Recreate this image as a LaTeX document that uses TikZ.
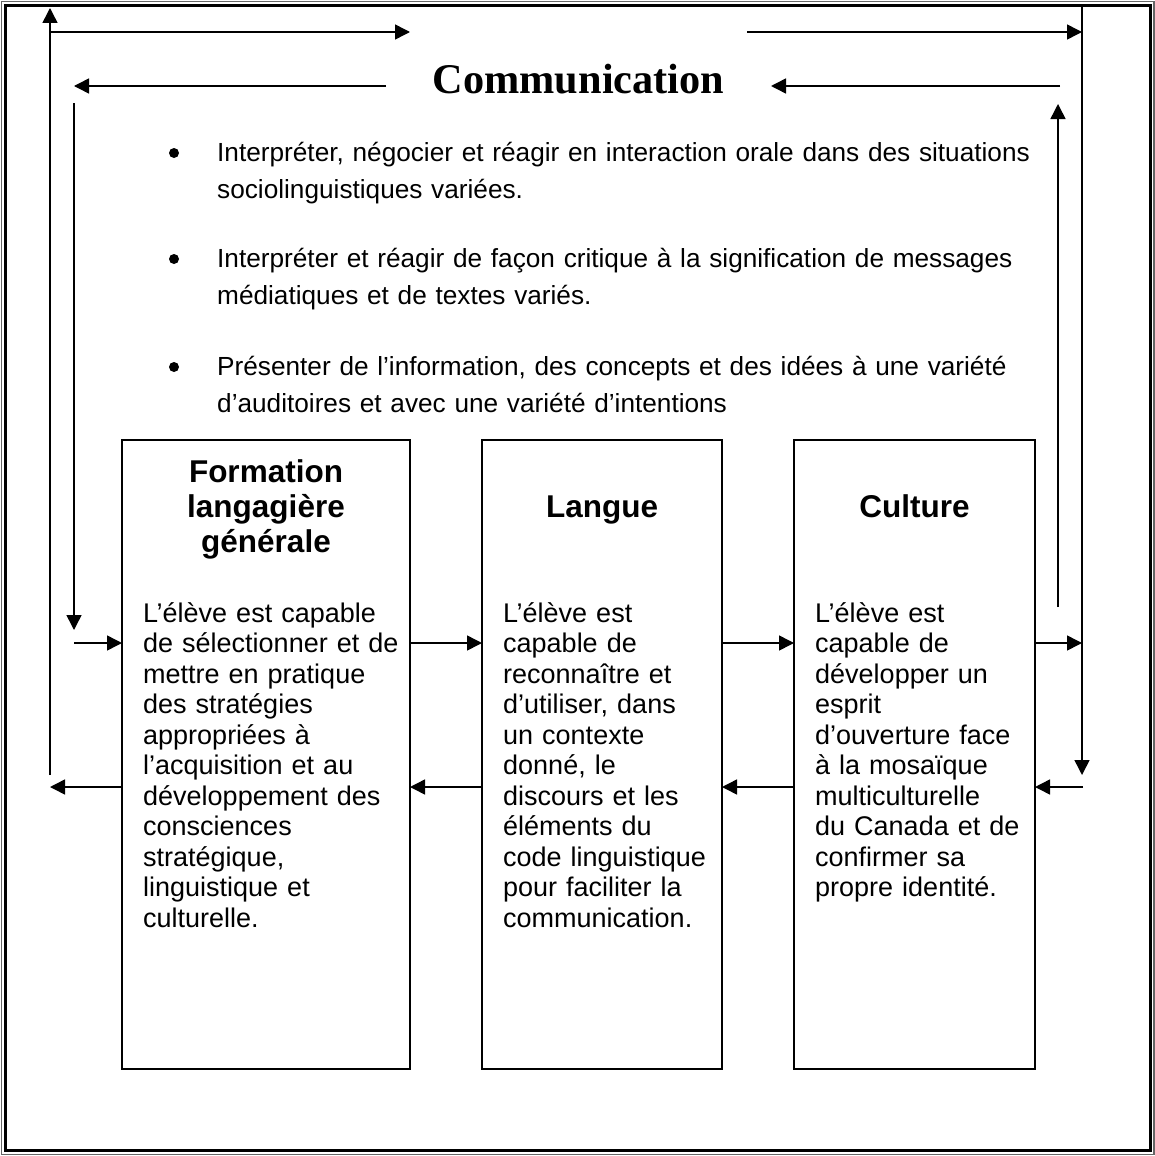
\documentclass[tikz,border=0pt]{standalone}
\usepackage{fontspec}
\setmainfont{Liberation Sans}
\newfontfamily\serifbold{Liberation Serif}
\usetikzlibrary{arrows.meta}
\begin{document}
\begin{tikzpicture}[x=1pt,y=-1pt,
  conntip/.style={line width=1.5pt, -{Triangle[length=15pt,width=15pt]}},
  boxst/.style={draw, line width=2pt, minimum height=629pt, inner sep=0pt, outer sep=0pt},
  ttl/.style={font=\bfseries\fontsize{31.5}{35}\selectfont, align=center, text width=280pt, anchor=base, inner sep=0pt},
  bodytxt/.style={font=\fontsize{27}{30.5}\selectfont, align=left, text width=300pt, anchor=base west, inner sep=0pt},
  btext/.style={font=\fontsize{26.2}{37}\selectfont, align=left, text width=920pt, anchor=base west, inner sep=0pt},
  bdot/.style={circle, fill, inner sep=0pt, minimum size=10pt}
]
\useasboundingbox (0,0) rectangle (1155,1156);
% page border (thin-thick)
\draw[line width=1.2pt, black!60] (1.5,1.5) rectangle (1154,1154.5);
\draw[line width=3pt] (5.5,5.5) rectangle (1150.5,1150.5);

% boxes
\node[boxst, minimum width=288pt] (b1) at (266,754.5) {};
\node[boxst, minimum width=240pt] (b2) at (602,754.5) {};
\node[boxst, minimum width=241pt] (b3) at (914.5,754.5) {};

% title
\node[font=\serifbold\bfseries\fontsize{42.3}{50}\selectfont, anchor=base, inner sep=0pt] (comm) at (578.5,93) {Communication};

% bullets
\node[bdot] (d1) at (174,153) {};
\node[btext] (t1) at (217,161.5) {Interpréter, négocier et réagir en interaction orale dans des situations\\sociolinguistiques variées.};
\node[bdot] (d2) at (174,259) {};
\node[btext] (t2) at (217,267.5) {Interpréter et réagir de façon critique à la signification de messages\\médiatiques et de textes variés.};
\node[bdot] (d3) at (174,367) {};
\node[btext] (t3) at (217,375.5) {Présenter de l’information, des concepts et des idées à une variété\\d’auditoires et avec une variété d’intentions};

% box titles
\node[ttl] (h1) at (266,482.5) {Formation\\langagière\\générale};
\node[ttl] (h2) at (602,517.5) {Langue};
\node[ttl] (h3) at (914.5,517.5) {Culture};

% box bodies
\node[bodytxt] (p1) at (143,622) {L’élève est capable\\de sélectionner et de\\mettre en pratique\\des stratégies\\appropriées à\\l’acquisition et au\\développement des\\consciences\\stratégique,\\linguistique et\\culturelle.};
\node[bodytxt] (p2) at (503,622) {L’élève est\\capable de\\reconnaître et\\d’utiliser, dans\\un contexte\\donné, le\\discours et les\\éléments du\\code linguistique\\pour faciliter la\\communication.};
\node[bodytxt] (p3) at (815,622) {L’élève est\\capable de\\développer un\\esprit\\d’ouverture face\\à la mosaïque\\multiculturelle\\du Canada et de\\confirmer sa\\propre identité.};

% coordinates
\coordinate (r1) at (0,643);
\coordinate (r2) at (0,787);
\coordinate (lo1) at (50,787);
\coordinate (lo2) at (50,775);
\coordinate (lo3) at (50,8);
\coordinate (lo4) at (50,32);
\coordinate (lo5) at (410,32);
\coordinate (li1) at (386,86);
\coordinate (li2) at (74,86);
\coordinate (li3) at (74,103);
\coordinate (li4) at (74,630);
\coordinate (li5) at (74,643);
\coordinate (ro1) at (1082,643);
\coordinate (ro2) at (1082,7);
\coordinate (ro3) at (1082,775);
\coordinate (ro4) at (747,32);
\coordinate (ro5) at (1082,32);
\coordinate (ro6) at (1083,787);
\coordinate (ri1) at (1058,607);
\coordinate (ri2) at (1058,104);
\coordinate (ri3) at (1060,86);
\coordinate (ri4) at (771,86);

% between boxes
\draw[conntip] (b1.east |- r1) -- (b2.west |- r1);
\draw[conntip] (b2.east |- r1) -- (b3.west |- r1);
\draw[conntip] (b2.west |- r2) -- (b1.east |- r2);
\draw[conntip] (b3.west |- r2) -- (b2.east |- r2);

% left loops
\draw[conntip] (b1.west |- r2) -- (lo1);
\draw[conntip] (lo2) -- (lo3);
\draw[conntip] (lo4) -- (lo5);
\draw[conntip] (li1) -- (li2);
\draw[conntip] (li3) -- (li4);
\draw[conntip] (li5) -- (b1.west |- r1);

% right loops
\draw[conntip] (b3.east |- r1) -- (ro1);
\draw[conntip] (ro2) -- (ro3);
\draw[conntip] (ro4) -- (ro5);
\draw[conntip] (ro6) -- (b3.east |- r2);
\draw[conntip] (ri1) -- (ri2);
\draw[conntip] (ri3) -- (ri4);
\end{tikzpicture}
\end{document}
